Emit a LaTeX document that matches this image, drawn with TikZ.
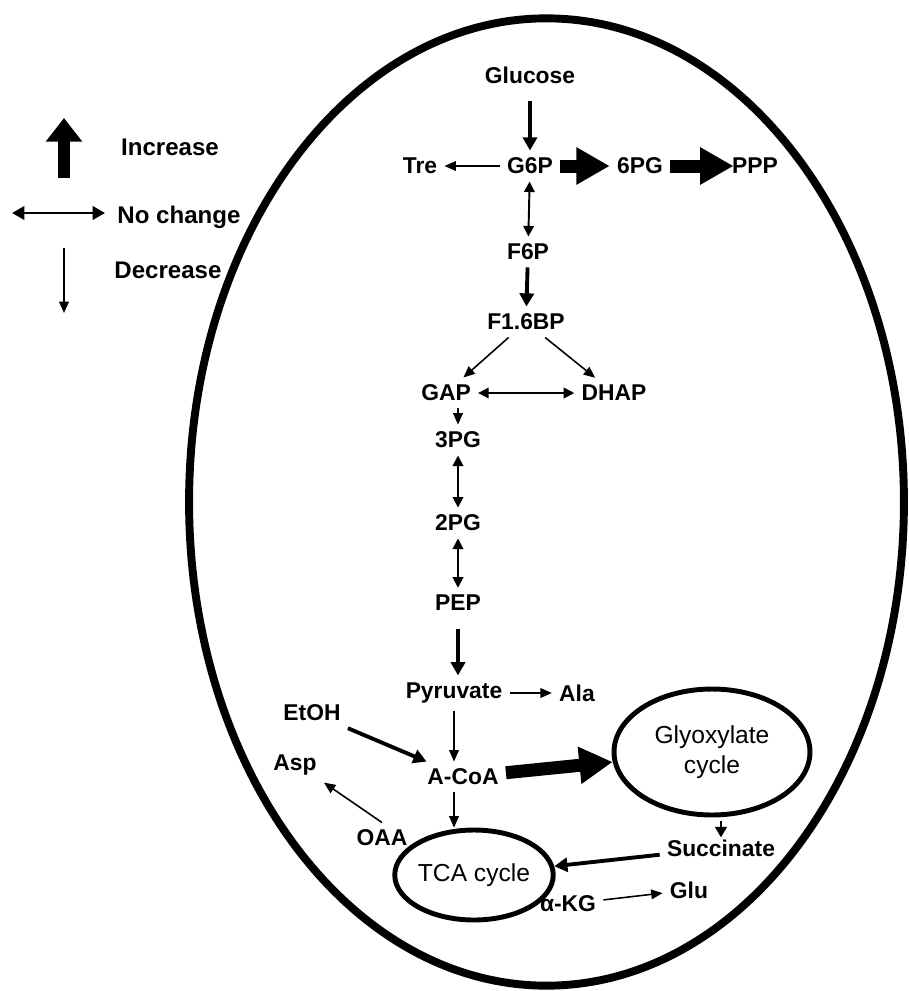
\documentclass[tikz,border=0pt]{standalone}
\usepackage{fontspec}
\setmainfont{Liberation Sans}
\usepackage{tikz}
\usetikzlibrary{arrows.meta}
\usetikzlibrary{shapes.geometric}
\usetikzlibrary{calc}
\tikzset{
  % Common styles for the pathway
  met/.style={font=\fontsize{13}{15}\selectfont\bfseries, inner sep=4pt},
  legtext/.style={font=\fontsize{13.7}{16}\selectfont\bfseries},
  ring/.style={draw, ellipse, line width=2.8pt, inner sep=0pt, align=center, font=\fontsize{14}{17}\selectfont},
  % Arrow widths stand for the change
  flow/.style={draw, line width=0.9pt, -{Triangle[length=6.5pt,width=5.5pt]}},
  push/.style={draw, line width=2.2pt, -{Triangle[length=7.5pt,width=8pt]}},
  flux/.style={draw, line width=7.4pt, -{Triangle[length=19pt,width=20pt]}},
  twoway/.style={draw, line width=1.1pt, {Triangle[length=6pt,width=6pt]}-{Triangle[length=6pt,width=6pt]}}
}

\begin{document}
\begin{tikzpicture}[x=0.02cm, y=-0.02cm]
    \useasboundingbox (0,0) rectangle (909,991);

    % Cell
    \node[draw, ellipse, line width=4.5pt, minimum width=14.3cm, minimum height=19.35cm, inner sep=0pt] (cell) at (546.5,502) {};

    % Legend
    \coordinate (incA) at (64,178);
    \coordinate (incB) at (64,118);
    \path [flux, line width=6.8pt, -{Triangle[length=13.5pt,width=20pt]}] (incA) -- (incB);
    \node[legtext] (inc) at (170,147) {Increase};
    \coordinate (ncA) at (12,213);
    \coordinate (ncB) at (105,213);
    \path [twoway, line width=1.7pt, {Triangle[length=7pt,width=7.5pt]}-{Triangle[length=7pt,width=7.5pt]}] (ncA) -- (ncB);
    \node[legtext] (nc) at (179,217) {No change};
    \coordinate (decA) at (64,248);
    \coordinate (decB) at (64,313);
    \path [flow] (decA) -- (decB);
    \node[legtext] (dec) at (168,270) {Decrease};

    % Define nodes
    \node[met] (glc) at (530,75) {Glucose};
    \node[met] (g6p) at (530,166) {G6P};
    \node[met] (tre) at (420,166) {Tre};
    \node[met] (pg6) at (640,166) {6PG};
    \node[met] (ppp) at (755,166) {PPP};
    \node[met] (f6p) at (528,252) {F6P};
    \node[met] (f16bp) at (526,322) {F1.6BP};
    \node[met] (gap) at (446,393) {GAP};
    \node[met] (dhap) at (614,393) {DHAP};
    \node[met] (pg3) at (458,440) {3PG};
    \node[met] (pg2) at (458,523) {2PG};
    \node[met] (pep) at (458,603) {PEP};
    \node[met] (pyr) at (454,693) {Pyruvate};
    \node[met] (ala) at (577,693) {Ala};
    \node[met] (etoh) at (312,713) {EtOH};
    \node[met] (acoa) at (463,777) {A-CoA};
    \node[met] (asp) at (295,765) {Asp};
    \node[met] (oaa) at (382,838) {OAA};
    \node[met] (succ) at (721,848) {Succinate};
    \node[met] (akg) at (568,904) {α-KG};
    \node[met] (glu) at (689,890) {Glu};
    \node[ring, minimum width=3.92cm, minimum height=2.52cm] (glyox) at (712,752) {Glyoxylate\\cycle};
    \node[ring, minimum width=2.86cm, minimum height=1.8cm] (tca) at (474,875) {TCA cycle};

    % Define connections
    \path [push, shorten <=6pt] (glc) -- (g6p);
    \path [flow] (g6p) -- (tre);
    \path [flux] (g6p) -- (pg6);
    \path [flux, shorten >=-5pt] (pg6) -- (ppp);
    \path [twoway] (g6p) -- (f6p);
    \path [push] (f6p) -- (f16bp);
    \path [flow] (f16bp) -- (gap);
    \path [flow] (f16bp) -- (dhap);
    \path [twoway] (gap) -- (dhap);
    \path [flow] (gap.south -| pg3) -- (pg3);
    \path [twoway] (pg3) -- (pg2);
    \path [twoway] (pg2) -- (pep);
    \path [push, shorten <=6pt] (pep) -- (pep |- pyr.north);
    \path [flow] (pyr) -- (ala);
    \path [flow] (pyr) -- (pyr |- acoa.north);
    \path [push] (etoh) -- (acoa);
    \path [flux] (acoa) -- (glyox);
    \path [flow] (acoa.south -| pyr) -- (tca.north -| pyr);
    \path [flow] (oaa.north) -- (asp.south east);
    \path [flow, line width=1.6pt, -{Triangle[length=6pt,width=6.5pt]}, shorten <=2pt, shorten >=-3pt] (succ |- glyox.south) -- (succ);
    \path [push] (succ) -- (tca);
    \path [flow] (akg) -- (glu);
\end{tikzpicture}
\end{document}
